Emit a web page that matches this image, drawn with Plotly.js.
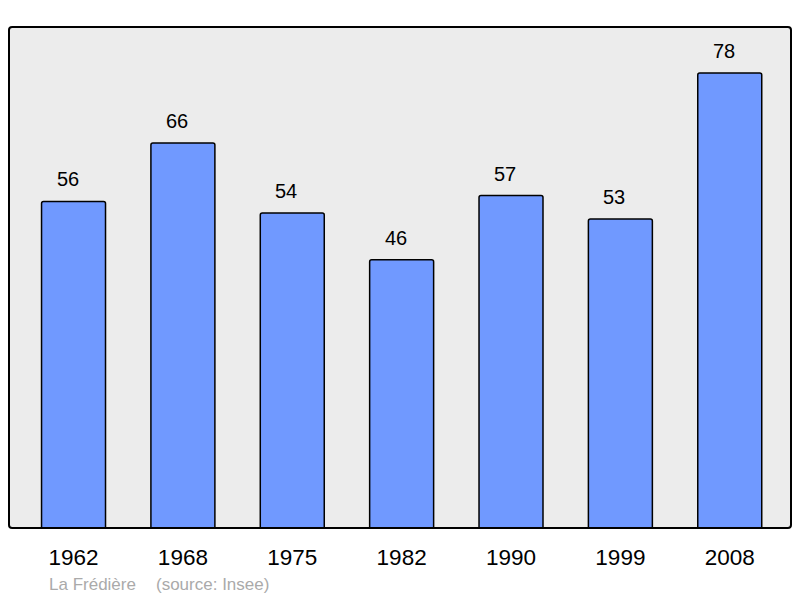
<!DOCTYPE html>
<html><head><meta charset="utf-8">
<script src="https://cdn.plot.ly/plotly-3.0.1.min.js"></script>
<style>html,body{margin:0;padding:0;background:#fff}#chart{width:800px;height:598px}</style>
</head><body><div id="chart"></div>
<script>
const years = ['1962','1968','1975','1982','1990','1999','2008'];
const population = [56, 66, 54, 46, 57, 53, 78];
const placeName = 'La Frédière';
const sourceName = '(source: Insee)';

const FONT = 'Liberation Sans, Arial, sans-serif';

const trace = {
  type: 'bar',
  x: years,
  y: population,
  width: 0.585,
  marker: {color: '#7099ff', line: {color: '#000', width: 1.5}, cornerradius: 2},
  hoverinfo: 'none'
};

// category axis: position annotations by category index
const valueLabels = years.map((yr, i) => ({
  x: i, y: population[i], xref: 'x', yref: 'y',
  text: String(population[i]), showarrow: false,
  xanchor: 'center', yanchor: 'middle', xshift: -6, yshift: 22,
  font: {family: FONT, size: 20, color: '#000'}
}));

const layout = {
  width: 800, height: 598,
  margin: {l: 9, r: 9, t: 27, b: 70},
  paper_bgcolor: '#ffffff',
  plot_bgcolor: '#ececec',
  showlegend: false,
  xaxis: {
    type: 'category', range: [-0.59, 6.56],
    showgrid: false, zeroline: false, showline: false,
    ticks: 'outside', ticklen: 9, tickcolor: 'rgba(0,0,0,0)',
    tickfont: {family: FONT, size: 22.5, color: '#000'},
    fixedrange: true
  },
  yaxis: {
    range: [0, 85.9], showgrid: false, zeroline: false, showline: false,
    showticklabels: false, ticks: '', fixedrange: true
  },
  shapes: [{
    type: 'path', xref: 'paper', yref: 'paper', layer: 'above',
    path: 'M 0.004 0 L 0.996 0 Q 1 0 1 0.006 L 1 0.994 Q 1 1 0.996 1 L 0.004 1 Q 0 1 0 0.994 L 0 0.006 Q 0 0 0.004 0 Z',
    line: {color: '#000', width: 2}
  }],
  annotations: valueLabels.concat([
    {xref: 'paper', yref: 'paper', x: 0.049, y: -0.112,
     xanchor: 'left', yanchor: 'middle', showarrow: false,
     text: placeName, font: {family: FONT, size: 17, color: '#aaaaaa'}},
    {xref: 'paper', yref: 'paper', x: 0.186, y: -0.112,
     xanchor: 'left', yanchor: 'middle', showarrow: false,
     text: sourceName, font: {family: FONT, size: 17, color: '#aaaaaa'}}
  ])
};

Plotly.newPlot('chart', [trace], layout, {displayModeBar: false, staticPlot: true});
</script></body></html>
